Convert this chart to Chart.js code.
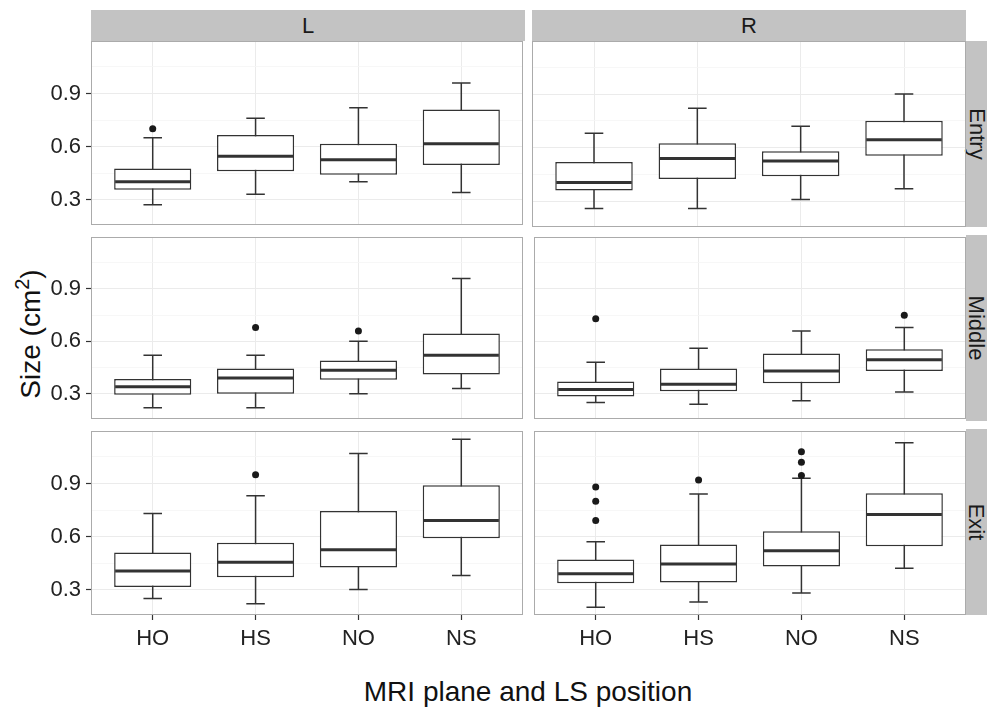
<!DOCTYPE html>
<html lang="en">
<head>
<meta charset="UTF-8">
<title>Size by MRI plane and LS position</title>
<script src="https://cdn.jsdelivr.net/npm/chart.js"></script>
<style>
  body { margin: 0; background: #fff; font-family: "Liberation Sans", Arial, sans-serif; }
  #wrap { position: relative; width: 987px; height: 713px; overflow: hidden; }
  canvas { position: absolute; }
  .strip { position: absolute; background: #c3c3c3; color: #1a1a1a; font-size: 22px;
           display: flex; align-items: center; justify-content: center; }
  .vtext { transform: rotate(90deg); white-space: nowrap; }
  .title { position: absolute; color: #111; font-size: 28px; white-space: nowrap; }
</style>
</head>
<body>
<div id="wrap">
  <div class="strip" style="left:91px;top:10px;width:434px;height:31px">L</div>
  <div class="strip" style="left:532px;top:10px;width:434px;height:31px">R</div>
  <div class="strip" style="left:966px;top:41px;width:21px;height:186px"><span class="vtext">Entry</span></div>
  <div class="strip" style="left:966px;top:235px;width:21px;height:186px"><span class="vtext">Middle</span></div>
  <div class="strip" style="left:966px;top:429px;width:21px;height:186px"><span class="vtext">Exit</span></div>
  <div class="title" style="left:29px;top:334px;transform:translate(-50%,-50%) rotate(-90deg)">Size (cm<sup style="font-size:20px">2</sup>)</div>
  <div class="title" style="left:528px;top:692px;transform:translate(-50%,-50%)">MRI plane and LS position</div>
</div>

<script>
// categories and facets
const categories = ['HO', 'HS', 'NO', 'NS'];
const sides = ['L', 'R'];
const planes = ['Entry', 'Middle', 'Exit'];
const yMajor = [0.3, 0.6, 0.9];
const yMinor = [0.45, 0.75, 1.05];

// Entry, L
const entryL_low  = [0.27, 0.33, 0.40, 0.34];
const entryL_q1   = [0.355, 0.46, 0.44, 0.495];
const entryL_med  = [0.40, 0.545, 0.525, 0.615];
const entryL_q3   = [0.475, 0.665, 0.615, 0.81];
const entryL_high = [0.65, 0.76, 0.82, 0.96];
const entryL_out  = [['HO', 0.70]];

// Entry, R
const entryR_low  = [0.26, 0.26, 0.31, 0.37];
const entryR_q1   = [0.36, 0.425, 0.44, 0.555];
const entryR_med  = [0.405, 0.54, 0.525, 0.645];
const entryR_q3   = [0.52, 0.625, 0.58, 0.75];
const entryR_high = [0.68, 0.82, 0.72, 0.90];
const entryR_out  = [];

// Middle, L
const middleL_low  = [0.22, 0.22, 0.30, 0.33];
const middleL_q1   = [0.295, 0.30, 0.38, 0.41];
const middleL_med  = [0.34, 0.39, 0.435, 0.52];
const middleL_q3   = [0.385, 0.445, 0.49, 0.645];
const middleL_high = [0.52, 0.52, 0.60, 0.96];
const middleL_out  = [['HS', 0.68], ['NO', 0.66]];

// Middle, R
const middleR_low  = [0.25, 0.24, 0.26, 0.31];
const middleR_q1   = [0.285, 0.315, 0.36, 0.43];
const middleR_med  = [0.325, 0.355, 0.43, 0.495];
const middleR_q3   = [0.37, 0.445, 0.53, 0.555];
const middleR_high = [0.48, 0.56, 0.66, 0.68];
const middleR_out  = [['HO', 0.73], ['NS', 0.75]];

// Exit, L
const exitL_low  = [0.25, 0.22, 0.30, 0.38];
const exitL_q1   = [0.315, 0.37, 0.425, 0.59];
const exitL_med  = [0.405, 0.455, 0.525, 0.69];
const exitL_q3   = [0.51, 0.565, 0.745, 0.89];
const exitL_high = [0.73, 0.83, 1.07, 1.15];
const exitL_out  = [['HS', 0.95]];

// Exit, R
const exitR_low  = [0.20, 0.23, 0.28, 0.42];
const exitR_q1   = [0.335, 0.34, 0.43, 0.545];
const exitR_med  = [0.39, 0.445, 0.52, 0.725];
const exitR_q3   = [0.47, 0.555, 0.63, 0.845];
const exitR_high = [0.57, 0.84, 0.93, 1.13];
const exitR_out  = [['HO', 0.69], ['HO', 0.80], ['HO', 0.88], ['HS', 0.92],
                    ['NO', 0.945], ['NO', 1.02], ['NO', 1.08]];

const panels = [
  [
    { low: entryL_low, q1: entryL_q1, med: entryL_med, q3: entryL_q3, high: entryL_high, out: entryL_out },
    { low: entryR_low, q1: entryR_q1, med: entryR_med, q3: entryR_q3, high: entryR_high, out: entryR_out }
  ],
  [
    { low: middleL_low, q1: middleL_q1, med: middleL_med, q3: middleL_q3, high: middleL_high, out: middleL_out },
    { low: middleR_low, q1: middleR_q1, med: middleR_med, q3: middleR_q3, high: middleR_high, out: middleR_out }
  ],
  [
    { low: exitL_low, q1: exitL_q1, med: exitL_med, q3: exitL_q3, high: exitL_high, out: exitL_out },
    { low: exitR_low, q1: exitR_q1, med: exitR_med, q3: exitR_q3, high: exitR_high, out: exitR_out }
  ]
];

// layout of the facet grid
const colLeft = [91, 532];
const rowTop = [41, 235, 429];
const panelW = 434;
const panelH = 186;
const axisColor = '#333333';
const labelColor = '#222222';

Chart.defaults.font.family = '"Liberation Sans", Arial, sans-serif';

// axes must not ask for extra room beyond their own box
function noPad(s) {
  s.paddingTop = 0; s.paddingBottom = 0; s.paddingLeft = 0; s.paddingRight = 0;
}

function boxPlugin(p) {
  return {
    id: 'boxLines',
    beforeDatasetsDraw(chart) {
      const { ctx, scales: { x, y } } = chart;
      ctx.save();
      ctx.strokeStyle = axisColor;
      ctx.lineWidth = 1.5;
      p.med.forEach((_, i) => {
        const cx = x.getPixelForValue(i);
        const half = x.getPixelForValue(i + 0.09) - cx;
        const yl = y.getPixelForValue(p.low[i]);
        const yh = y.getPixelForValue(p.high[i]);
        ctx.beginPath();
        ctx.moveTo(cx, yl); ctx.lineTo(cx, yh);
        ctx.moveTo(cx - half, yl); ctx.lineTo(cx + half, yl);
        ctx.moveTo(cx - half, yh); ctx.lineTo(cx + half, yh);
        ctx.stroke();
      });
      ctx.restore();
    },
    afterDatasetsDraw(chart) {
      const { ctx, scales: { y } } = chart;
      const bars = chart.getDatasetMeta(0).data;
      ctx.save();
      ctx.strokeStyle = axisColor;
      ctx.lineWidth = 3;
      bars.forEach((bar, i) => {
        const ym = y.getPixelForValue(p.med[i]);
        ctx.beginPath();
        ctx.moveTo(bar.x - bar.width / 2 + 1, ym);
        ctx.lineTo(bar.x + bar.width / 2 - 1, ym);
        ctx.stroke();
      });
      ctx.restore();
    },
    afterDraw(chart) {
      const { ctx, chartArea: a } = chart;
      ctx.save();
      ctx.strokeStyle = '#ababab';
      ctx.lineWidth = 1;
      ctx.strokeRect(a.left + 0.5, a.top + 0.5, a.right - a.left - 1, a.bottom - a.top - 1);
      ctx.restore();
    }
  };
}

const wrap = document.getElementById('wrap');

planes.forEach((plane, r) => {
  sides.forEach((side, c) => {
    const p = panels[r][c];
    const left = c === 0 ? 0 : colLeft[1] - 2;
    const right = c === 0 ? colLeft[0] + panelW + 2 : 987;
    const top = r === 0 ? 10 : rowTop[r] - 2;
    const bottom = r === 2 ? 660 : rowTop[r] + panelH + 2;
    const bottomAxis = r === 2;
    const leftAxis = c === 0;

    const cv = document.createElement('canvas');
    cv.width = right - left;
    cv.height = bottom - top;
    cv.style.left = left + 'px';
    cv.style.top = top + 'px';
    wrap.appendChild(cv);

    new Chart(cv, {
      type: 'bar',
      data: {
        datasets: [{
          type: 'bar',
          data: p.q1.map((v, i) => ({ x: i, y: [v, p.q3[i]] })),
          backgroundColor: '#ffffff',
          borderColor: axisColor,
          borderWidth: 1.5,
          borderSkipped: false,
          categoryPercentage: 1,
          barPercentage: 0.75,
          grouped: false
        }, {
          type: 'scatter',
          data: p.out.map(o => ({ x: categories.indexOf(o[0]), y: o[1] })),
          pointRadius: 3.5,
          pointBackgroundColor: '#1a1a1a',
          pointBorderWidth: 0
        }]
      },
      options: {
        responsive: false,
        animation: false,
        events: [],
        layout: {
          padding: {
            left: c === 0 ? 0 : 2,
            right: c === 0 ? 2 : 21,
            top: r === 0 ? 31 : 2,
            bottom: r === 2 ? 0 : 2
          }
        },
        plugins: { legend: { display: false }, tooltip: { enabled: false } },
        scales: {
          x: {
            type: 'linear',
            min: -0.6,
            max: 3.6,
            offset: false,
            afterBuildTicks: s => { s.ticks = categories.map((_, i) => ({ value: i })); },
            afterFit: s => { noPad(s); s.height = bottomAxis ? 45 : 0; },
            ticks: {
              display: bottomAxis,
              callback: v => categories[v],
              color: labelColor,
              font: { size: 22 },
              padding: 6,
              maxRotation: 0,
              autoSkip: false
            },
            grid: {
              offset: false,
              color: '#ebebeb',
              lineWidth: 1,
              drawTicks: bottomAxis,
              tickLength: 5,
              tickColor: axisColor,
              tickWidth: 1.2
            },
            border: { display: false }
          },
          y: {
            type: 'linear',
            min: 0.156,
            max: 1.197,
            beginAtZero: false,
            afterBuildTicks: s => {
              s.ticks = yMajor.concat(yMinor).sort((a, b) => a - b).map(v => ({ value: v }));
            },
            afterFit: s => { noPad(s); s.width = leftAxis ? 91 : 0; },
            ticks: {
              display: leftAxis,
              callback: v => yMajor.includes(v) ? v.toFixed(1) : '',
              color: labelColor,
              font: { size: 22 },
              padding: 5,
              autoSkip: false
            },
            grid: {
              color: ctx => yMajor.includes(ctx.tick.value) ? '#ebebeb' : '#f5f5f5',
              lineWidth: ctx => yMajor.includes(ctx.tick.value) ? 1 : 0.8,
              drawTicks: leftAxis,
              tickLength: 5,
              tickColor: ctx => yMajor.includes(ctx.tick.value) ? axisColor : 'rgba(0,0,0,0)',
              tickWidth: 1.2
            },
            border: { display: false }
          }
        }
      },
      plugins: [boxPlugin(p)]
    });
  });
});
</script>
</body>
</html>
